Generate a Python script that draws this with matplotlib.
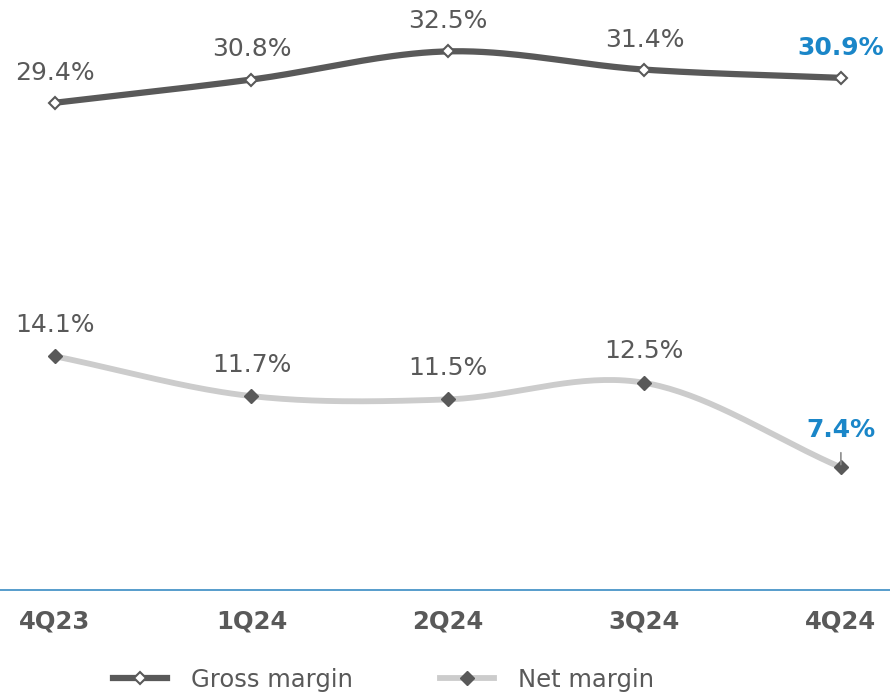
import numpy as np
import matplotlib.pyplot as plt
from matplotlib.lines import Line2D

plt.rcParams["font.family"] = ["DejaVu Sans"]

quarters = ["4Q23", "1Q24", "2Q24", "3Q24", "4Q24"]
gross_margin = [29.4, 30.8, 32.5, 31.4, 30.9]
net_margin = [14.1, 11.7, 11.5, 12.5, 7.4]

DARK = "#595959"
LIGHT = "#cccccc"
BLUE = "#1a86c8"


def smooth(xs, ys, n=40):
    # catmull-rom curve through the points, like Excel's smoothed line
    xs = np.asarray(xs, float)
    ys = np.asarray(ys, float)
    px = np.concatenate([[2 * xs[0] - xs[1]], xs, [2 * xs[-1] - xs[-2]]])
    py = np.concatenate([[2 * ys[0] - ys[1]], ys, [2 * ys[-1] - ys[-2]]])
    out_x, out_y = [], []
    t = np.linspace(0, 1, n)
    for i in range(1, len(px) - 2):
        for arr, out in ((px, out_x), (py, out_y)):
            p0, p1, p2, p3 = arr[i - 1], arr[i], arr[i + 1], arr[i + 2]
            out.extend(0.5 * ((2 * p1) + (-p0 + p2) * t
                              + (2 * p0 - 5 * p1 + 4 * p2 - p3) * t ** 2
                              + (-p0 + 3 * p1 - 3 * p2 + p3) * t ** 3))
    return np.array(out_x), np.array(out_y)


fig = plt.figure(figsize=(8.9, 6.95), dpi=100)
ax = fig.add_axes([0, 105 / 695, 1, 590 / 695])
x = np.arange(len(quarters))

gx, gy = smooth(x, gross_margin)
nx, ny = smooth(x, net_margin)
ax.plot(gx, gy, color=DARK, lw=4.5, solid_capstyle="butt", zorder=2)
ax.plot(nx, ny, color=LIGHT, lw=4.2, solid_capstyle="butt", zorder=2)
ax.plot(x, gross_margin, ls="none", marker="D", ms=6, mfc="white", mec=DARK, mew=1.5, zorder=3)
ax.plot(x, net_margin, ls="none", marker="D", ms=7, mfc=DARK, mec=DARK, zorder=3)

for i, (g, n) in enumerate(zip(gross_margin, net_margin)):
    last = i == len(quarters) - 1
    kw = dict(color=BLUE, fontweight="bold") if last else dict(color=DARK)
    ax.annotate(f"{g:.1f}%", (i, g), xytext=(0, 13), textcoords="offset points",
                ha="center", va="bottom", fontsize=18, **kw)
    if last:
        ax.annotate("", (i, n), xytext=(i, n + 1.05),
                    arrowprops=dict(arrowstyle="-", color="#8c8c8c", lw=1.2))
        ax.annotate(f"{n:.1f}%", (i, n), xytext=(0, 18), textcoords="offset points",
                    ha="center", va="bottom", fontsize=18, **kw)
    else:
        ax.annotate(f"{n:.1f}%", (i, n), xytext=(0, 14), textcoords="offset points",
                    ha="center", va="bottom", fontsize=18, **kw)

ax.set_xlim(-0.28, 4.25)
ax.set_ylim(0, 35.6)
ax.set_xticks(x)
ax.set_xticklabels(quarters, fontsize=17.5, fontweight="bold", color=DARK)
ax.tick_params(axis="x", length=0, pad=14)
ax.set_yticks([])
for side in ("top", "left", "right"):
    ax.spines[side].set_visible(False)
ax.spines["bottom"].set_color("#3a8cc4")
ax.spines["bottom"].set_linewidth(1.2)

handles = [
    Line2D([], [], color=DARK, lw=4.5, marker="D", ms=6, mfc="white", mec=DARK, mew=1.5),
    Line2D([], [], color=LIGHT, lw=4.2, marker="D", ms=7, mfc=DARK, mec=DARK),
]
fig.legend(handles, ["Gross margin", "Net margin"], loc="center", ncol=2,
           bbox_to_anchor=(0.431, 15 / 695), frameon=False, fontsize=17.5,
           labelcolor=DARK, handlelength=2.2, handletextpad=1.0, columnspacing=3.6)

fig.savefig("out.png", dpi=100, facecolor="white")
